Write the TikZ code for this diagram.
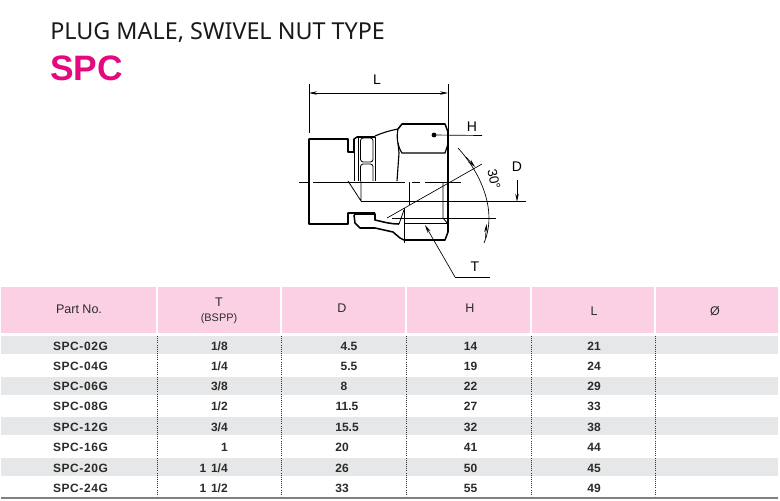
\documentclass[tikz,border=0pt]{standalone}
\usepackage{fontspec}
\setmainfont{Liberation Sans}
\newfontfamily\titlefont{Noto Sans}
\newfontfamily\partfont[LetterSpace=5]{Liberation Sans}
\usetikzlibrary{arrows.meta}
\definecolor{hdrpink}{HTML}{FBD0E4}
\definecolor{rowgrey}{HTML}{E6E7E8}
\definecolor{spcpink}{HTML}{E5097F}
\definecolor{inkdark}{HTML}{2B2B2B}
\tikzset{
  hdr/.style={font=\fontsize{9.4}{10}\selectfont, text=inkdark, inner sep=0pt},
  cell/.style={font=\fontsize{9}{10}\selectfont\bfseries, text=inkdark, inner sep=0pt},
  dim/.style={font=\fontsize{10.5}{12}\selectfont, text=black, inner sep=0pt},
  body/.style={line width=1.15pt, line join=round},
  thin/.style={line width=0.6pt},
  mid/.style={line width=0.85pt},
  leader/.style={line width=0.5pt}
}
\begin{document}
\begin{tikzpicture}[>={Stealth[length=6pt,width=2.6pt]},x=0.75pt,y=-0.75pt]
  \useasboundingbox (0,0) rectangle (780,500);

  % titles
  \node[font=\titlefont\fontsize{17.5}{20}\selectfont, text=black!90, inner sep=0pt, anchor=west] (title) at (50,33) {PLUG MALE, SWIVEL NUT TYPE};
  \node[font=\fontsize{26.5}{28}\selectfont\bfseries, text=spcpink, inner sep=0pt, anchor=west] (code) at (50,68) {SPC};

  % table bands
  \fill[hdrpink] (1,287) rectangle (778,332.5);
  \foreach \xa in {157,281,406,531,655}
    \draw[white, line width=1pt] (\xa,287) -- (\xa,332.5);
  \foreach \ya in {336,377,417,458}
    \fill[rowgrey] (1,\ya) rectangle (778,\ya+18);
  \foreach \xa [count=\i] in {157,281,406,531,655} {
    \coordinate (top\i) at (\xa,336);
    \coordinate (bot\i) at (\xa,496);
    \draw[densely dotted, thin, black!80] (top\i) -- (bot\i);
  }
  \coordinate (rule0) at (1,498);
  \coordinate (rule1) at (778,498);
  \draw[line width=0.8pt, black!50] (rule0) -- (rule1);

  % header
  \node[hdr] (hpart) at (79,309) {Part No.};
  \node[hdr] (ht) at (219,302) {T};
  \node[hdr, font=\fontsize{8.2}{10}\selectfont] (hb) at (219,319) {(BSPP)};
  \node[hdr] (hd) at (342,308) {D};
  \node[hdr] (hh) at (470,308) {H};
  \node[hdr] (hl) at (594,311) {L};
  \node[hdr] (ho) at (715,311) {Ø};

  % rows
  \foreach \i/\ya/\pn/\tv/\dx/\dv/\hv/\lv in {
      1/346/02/1\slash 8/349/4.5/14/21,
      2/366/04/1\slash 4/349/5.5/19/24,
      3/386/06/3\slash 8/344/8/22/29,
      4/406/08/1\slash 2/347/11.5/27/33,
      5/427/12/3\slash 4/347/15.5/32/38,
      6/447/16/1/342/20/41/44,
      7/468/20/1\hspace{3.5pt}1\slash 4/342/26/50/45,
      8/488/24/1\hspace{3.5pt}1\slash 2/342/33/55/49} {
    \node[cell, font=\partfont\fontsize{9}{10}\selectfont\bfseries] (part\i) at (80.5,\ya) {SPC-\pn G};
    \node[cell, anchor=east] (tsize\i) at (228,\ya) {\tv};
    \node[cell] (dsize\i) at (\dx,\ya) {\dv};
    \node[cell] (hsize\i) at (470.5,\ya) {\hv};
    \node[cell] (lsize\i) at (594,\ya) {\lv};
  }

  % fitting outline
  \draw[body] (375,213) -- (348,213) -- (348,224) -- (309,224) -- (309,139) -- (348,139) -- (348,152) -- (354,152) -- (354,139) -- (357,137) -- (375,137);
  \draw[body] (354,215) -- (355,223) -- (360,228) -- (375,228) -- (393,232) -- (400,238) -- (404,240) -- (445,240) -- (448,232) -- (448,132) -- (445,124) -- (402,124) -- (398,129);
  \draw[body] (354,215) -- (356,214) -- (375,214) -- (375,220) .. controls (384,222) and (390,224) .. (399,224);
  \draw[mid] (375,136) .. controls (382,133) and (388,131) .. (398,129) .. controls (396,138) and (398,147) .. (402,153) -- (445,153) -- (448,144);
  \draw[mid] (398,143) -- (399,153) -- (397,181);
  \draw[thin] (354,152) -- (354,181) (358,137) -- (358,181) (375,137) -- (375,181);
  \draw[thin, rounded corners=2pt] (360.5,138) rectangle (373,162);
  \draw[thin, rounded corners=2pt] (360.5,181) -- (360.5,164) -- (373,164) -- (373,181);

  % bore and thread
  \draw[thin] (348,181) -- (361,201) -- (361,181);
  \draw[thin] (409,182) -- (409,205);
  \draw[thin] (443,182) -- (443,218) -- (448,224);
  \draw[thin] (404,223) -- (448,223);
  \draw[thin] (399,224) -- (404,210);
  \coordinate (ctra) at (299,182);
  \coordinate (ctrb) at (308,182);
  \coordinate (ctrc) at (313,182);
  \coordinate (ctrd) at (405,182);
  \coordinate (ctre) at (412,182);
  \coordinate (ctrf) at (420,182);
  \coordinate (ctrg) at (425,182);
  \coordinate (ctrh) at (461,182);
  \draw[thin] (ctra) -- (ctrb) (ctrc) -- (ctrd) (ctre) -- (ctrf) (ctrg) -- (ctrh);

  % L
  \coordinate (la) at (309,93);
  \coordinate (lb) at (448,93);
  \coordinate (lc) at (309,84);
  \coordinate (ld) at (309,133);
  \coordinate (le) at (448,84);
  \coordinate (lf) at (448,132);
  \draw[leader] (lc) -- (ld) (le) -- (lf);
  \draw[leader, <->] (la) -- (lb);
  \node[dim] (lL) at (377,80) {L};

  % H
  \coordinate (hdot) at (434,135);
  \coordinate (hend) at (482,135.5);
  \fill (hdot) circle (2.4);
  \draw[leader] (hdot) -- (hend);
  \node[dim] (lH) at (472,127) {H};

  % D
  \coordinate (da) at (361,201.7);
  \coordinate (db) at (526,201.7);
  \coordinate (dc) at (517,180);
  \coordinate (dd) at (517,201.7);
  \draw[leader] (da) -- (db);
  \draw[leader, ->] (dc) -- (dd);
  \node[dim] (lD) at (517,167) {D};

  % 30 degree lines
  \coordinate (ga) at (387,218);
  \coordinate (gb) at (482,164);
  \coordinate (gc) at (392,218);
  \coordinate (gd) at (496,218);
  \draw[leader] (ga) -- (gb);
  \draw[leader] (gc) -- (gd);
  \coordinate (aa) at (458,148);
  \coordinate (ab) at (484,243);
  \draw[leader] (aa) .. controls (480,172) and (498,210) .. (ab);
  \coordinate (ac) at (466,157);
  \coordinate (ad) at (475,167);
  \coordinate (ae) at (485.5,238);
  \coordinate (af) at (486.5,224);
  \draw[leader, ->] (ac) -- (ad);
  \draw[leader, ->] (ae) -- (af);
  \node[dim, rotate=-78, font=\fontsize{10}{12}\selectfont] (lang) at (494,179) {30°};

  % T
  \coordinate (ta) at (425,225);
  \coordinate (tb) at (455,277);
  \coordinate (tc) at (490,277);
  \draw[leader, <-] (ta) -- (tb);
  \draw[leader] (tb) -- (tc);
  \node[dim] (lT) at (475,267) {T};
  \coordinate (va) at (404,208);
  \coordinate (vb) at (404,243);
  \draw[leader] (va) -- (vb);
\end{tikzpicture}
\end{document}
